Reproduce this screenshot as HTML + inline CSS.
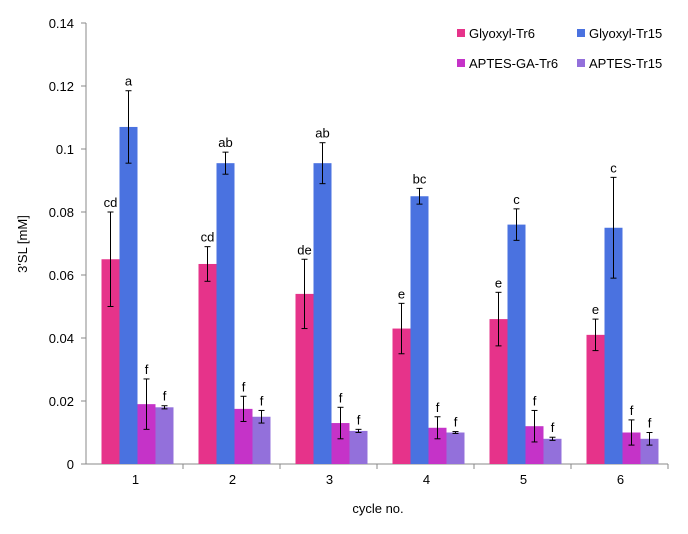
<!DOCTYPE html>
<html><head><meta charset="utf-8"><style>
body{margin:0;background:#fff;}
svg text{font-family:"Liberation Sans",sans-serif;fill:#000;}
</style></head><body>
<svg id="c" width="688" height="529"></svg>
<script>
const categories=["1","2","3","4","5","6"];
const seriesNames=["Glyoxyl-Tr6","Glyoxyl-Tr15","APTES-GA-Tr6","APTES-Tr15"];
const colors=["#e6338a","#4a72e0","#c533c8","#9370db"];
const glyTr6=[0.065,0.0635,0.054,0.043,0.046,0.041];
const glyTr6Err=[0.015,0.0055,0.011,0.008,0.0085,0.005];
const glyTr15=[0.107,0.0955,0.0955,0.085,0.076,0.075];
const glyTr15Err=[0.0115,0.0035,0.0065,0.0025,0.005,0.016];
const aptGaTr6=[0.019,0.0175,0.013,0.0115,0.012,0.010];
const aptGaTr6Err=[0.008,0.004,0.005,0.0035,0.005,0.004];
const aptTr15=[0.018,0.015,0.0105,0.010,0.008,0.008];
const aptTr15Err=[0.0005,0.002,0.0005,0.0003,0.0005,0.002];
const letters=[["cd","a","f","f"],["cd","ab","f","f"],["de","ab","f","f"],["e","bc","f","f"],["e","c","f","f"],["e","c","f","f"]];
const yTicks=[0,0.02,0.04,0.06,0.08,0.1,0.12,0.14];
const yTickLabels=["0","0.02","0.04","0.06","0.08","0.1","0.12","0.14"];
const vals=[glyTr6,glyTr15,aptGaTr6,aptTr15], errs=[glyTr6Err,glyTr15Err,aptGaTr6Err,aptTr15Err];
const svg=document.getElementById('c');const NS="http://www.w3.org/2000/svg";
function mk(t,a,p){const e=document.createElementNS(NS,t);for(const k in a)e.setAttribute(k,a[k]);(p||svg).appendChild(e);return e;}
const x0=86,x1=668,y0=464,yTop=23;
const y=v=>y0-(v/0.14)*(y0-yTop);
const catW=(x1-x0)/categories.length;
const cx=i=>x0+catW*(i+0.5)+5;
const bw=18;
yTicks.forEach((t,i)=>{
 const tx=mk('text',{x:x0-12,y:y(t)+5,'text-anchor':'end','font-size':13});tx.textContent=yTickLabels[i];
 
 
 const tk=mk('line',{x1:x0-5,x2:x0,y1:y(t),y2:y(t),stroke:'#888'});
 
 
});
const ax=mk('line',{x1:x0,x2:x0,y1:yTop,y2:y0,stroke:'#888'});


const bx=mk('line',{x1:x0,x2:x1,y1:y0,y2:y0,stroke:'#888'});


categories.forEach((c,i)=>{
 const tk=mk('line',{x1:x0+catW*(i+1),x2:x0+catW*(i+1),y1:y0,y2:y0+5,stroke:'#888'});
 
 
 const tx=mk('text',{x:cx(i)-4,y:y0+20,'text-anchor':'middle','font-size':13});tx.textContent=c;
 
 
 for(let s=0;s<4;s++){
  const bxl=cx(i)-2*bw+s*bw-2, v=vals[s][i], e=errs[s][i];
  const r=mk('rect',{x:bxl,y:y(v),width:bw,height:y0-y(v),fill:colors[s]});
  
  
  const m=bxl+bw/2;
  const g=mk('g',{stroke:'#000','stroke-width':1});
  
  
  mk('line',{x1:m,x2:m,y1:y(v+e),y2:y(v-e)},g);
  mk('line',{x1:m-3,x2:m+3,y1:y(v+e),y2:y(v+e)},g);
  mk('line',{x1:m-3,x2:m+3,y1:y(v-e),y2:y(v-e)},g);
  const lt=mk('text',{x:m,y:y(v+e)-5,'text-anchor':'middle','font-size':13});lt.textContent=letters[i][s];
  
  
 }
});
const yt=mk('text',{x:0,y:0,'font-size':13,'text-anchor':'middle',transform:'translate(27,244) rotate(-90)'});yt.textContent="3'SL [mM]";


const xt=mk('text',{x:378,y:513,'font-size':13,'text-anchor':'middle'});xt.textContent="cycle no.";


const lp=[[457,33],[577,33],[457,63],[577,63]];
seriesNames.forEach((n,s)=>{
 const g=mk('g',{});
 
 
 mk('rect',{x:lp[s][0],y:lp[s][1]-4,width:8,height:8,fill:colors[s]},g);
 const t=mk('text',{x:lp[s][0]+12,y:lp[s][1]+5,'font-size':13},g);t.textContent=n;
});
</script>
</body></html>
